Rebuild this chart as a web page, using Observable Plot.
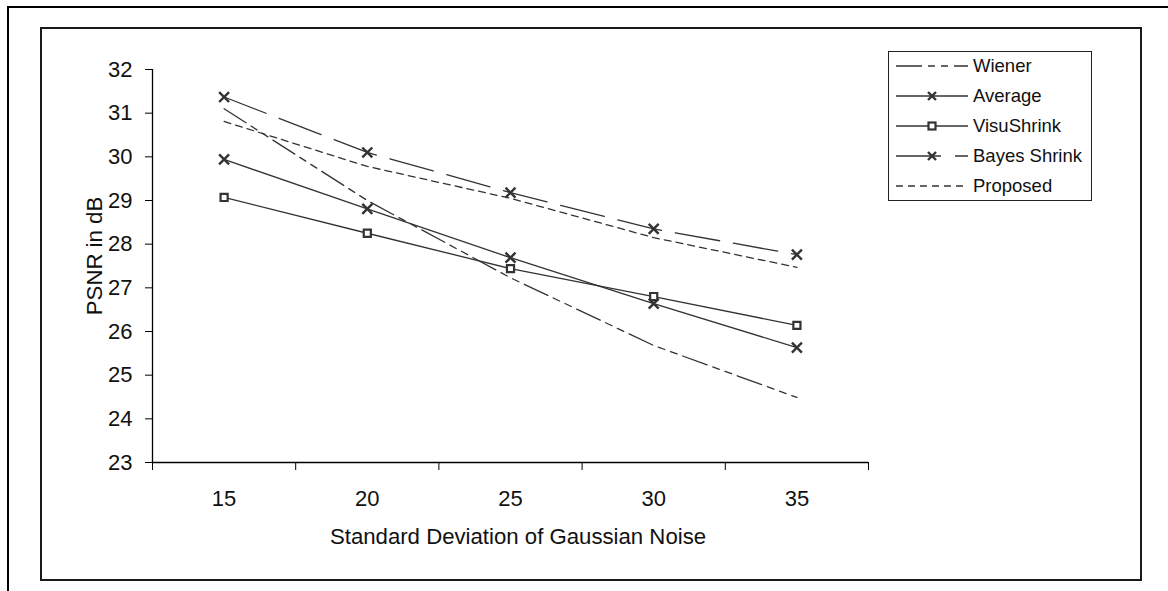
<!DOCTYPE html>
<html>
<head>
<meta charset="utf-8">
<script src="https://cdn.jsdelivr.net/npm/d3@7"></script>
<script src="https://cdn.jsdelivr.net/npm/@observablehq/plot@0.6"></script>
<style>
  html, body { margin: 0; padding: 0; background: #fff; overflow: hidden; }
  #page { position: relative; width: 1168px; height: 591px; overflow: hidden; font-family: "Liberation Sans", Arial, sans-serif; color: #111; }
  #chart { position: absolute; left: 0; top: 0; }
  .frame { position: absolute; box-sizing: border-box; pointer-events: none; }
  #outer { left: 7px; top: 6px; width: 1300px; height: 800px; border: 2px solid #000; }
  #inner { left: 40px; top: 27px; width: 1102px; height: 554px; border: 2px solid #1a1a1a; }
  #legend { position: absolute; left: 888px; top: 51px; width: 204px; height: 150px; box-sizing: border-box; border: 1.5px solid #222; background: #fff; }
  .lg-row { position: absolute; left: 0; height: 20px; }
  .lg-row svg { position: absolute; left: 7px; top: 0; }
  .lg-row span { position: absolute; left: 84px; top: 0; line-height: 20px; font-size: 18.5px; white-space: nowrap; }
  .axis-title { position: absolute; font-size: 22.2px; white-space: nowrap; line-height: 26px; }
</style>
</head>
<body>
<div id="page">
  <div id="chart"></div>
  <div class="frame" id="outer"></div>
  <div class="frame" id="inner"></div>
  <div id="legend"></div>
  <div class="axis-title" id="xtitle"></div>
  <div class="axis-title" id="ytitle"></div>
</div>
<script>
// ---- data ----
const categories = [15, 20, 25, 30, 35];
const wiener      = [31.10, 29.00, 27.23, 25.68, 24.49];
const average     = [29.94, 28.81, 27.69, 26.64, 25.63];
const visuShrink  = [29.07, 28.25, 27.44, 26.80, 26.14];
const bayesShrink = [31.37, 30.10, 29.18, 28.35, 27.76];
const proposed    = [30.81, 29.78, 29.05, 28.15, 27.47];
const yTicks = [23, 24, 25, 26, 27, 28, 29, 30, 31, 32];
const xTitle = "Standard Deviation of Gaussian Noise";
const yTitle = "PSNR in dB";
const seriesNames = ["Wiener", "Average", "VisuShrink", "Bayes Shrink", "Proposed"];

const ink = "#333";
const styles = {
  "Wiener":       {dash: "26,6,7,6,7,6", marker: null},
  "Average":      {dash: null, marker: "times"},
  "VisuShrink":   {dash: null, marker: "square"},
  "Bayes Shrink": {dash: "45,14", marker: "times"},
  "Proposed":     {dash: "7,5", marker: null}
};
const valuesBySeries = {
  "Wiener": wiener, "Average": average, "VisuShrink": visuShrink,
  "Bayes Shrink": bayesShrink, "Proposed": proposed
};
const rows = seriesNames.flatMap(s => categories.map((c, i) => ({series: s, x: c, y: valuesBySeries[s][i]})));

// category band boundaries on a linear scale
const step = categories[1] - categories[0];
const bounds = [categories[0] - step / 2, ...categories.map(c => c + step / 2)];

const marks = [
  Plot.ruleY([yTicks[0]], {stroke: "#000", strokeWidth: 1.3}),
  Plot.ruleX([bounds[0]], {stroke: "#000", strokeWidth: 1.3}),
  Plot.axisY({ticks: yTicks, tickSize: 7, tickPadding: 13, fontSize: 22, stroke: "#000", label: null}),
  Plot.axisX({ticks: bounds, tickSize: 8, tickFormat: () => "", stroke: "#000", label: null}),
  Plot.axisX({ticks: categories, tickSize: 0, tickPadding: 28, fontSize: 22, label: null})
];
for (const s of seriesNames) {
  const st = styles[s];
  const data = rows.filter(d => d.series === s);
  marks.push(Plot.line(data, {x: "x", y: "y", stroke: ink, strokeWidth: 1.3, strokeDasharray: st.dash || undefined}));
  if (st.marker === "times") {
    marks.push(Plot.dot(data, {x: "x", y: "y", symbol: "times", r: 4.6, stroke: ink, strokeWidth: 2.4}));
  } else if (st.marker === "square") {
    marks.push(Plot.dot(data, {x: "x", y: "y", symbol: "square", r: 4, fill: "#fff", stroke: ink, strokeWidth: 2.2}));
  }
}

const chart = Plot.plot({
  width: 1168,
  height: 591,
  marginLeft: 152,
  marginRight: 300,
  marginTop: 69,
  marginBottom: 129,
  style: {fontFamily: "Liberation Sans, Arial, sans-serif", background: "transparent", color: "#111", overflow: "visible"},
  x: {type: "linear", domain: [bounds[0], bounds[bounds.length - 1]]},
  y: {domain: [yTicks[0], yTicks[yTicks.length - 1]]},
  marks
});
document.getElementById("chart").appendChild(chart);

// axis titles
const xt = document.getElementById("xtitle");
xt.textContent = xTitle;
xt.style.left = "518px"; xt.style.top = "537px";
xt.style.transform = "translate(-50%, -50%)";
const yt = document.getElementById("ytitle");
yt.textContent = yTitle;
yt.style.left = "95px"; yt.style.top = "256px";
yt.style.transform = "translate(-50%, -50%) rotate(-90deg)";

// legend
const legend = document.getElementById("legend");
seriesNames.forEach((s, i) => {
  const st = styles[s];
  const row = document.createElement("div");
  row.className = "lg-row";
  row.style.top = (4 + i * 30) + "px";
  row.style.width = "200px";
  let marker = "";
  if (st.marker === "times") {
    marker = `<path d="M32,6 L40,14 M40,6 L32,14" stroke="${ink}" stroke-width="2.4" fill="none"/>`;
  } else if (st.marker === "square") {
    marker = `<rect x="32.5" y="6.5" width="7" height="7" stroke="${ink}" stroke-width="2.2" fill="#fff"/>`;
  }
  row.innerHTML = `<svg width="74" height="20"><line x1="0" y1="10" x2="72" y2="10" stroke="${ink}" stroke-width="1.3" ${st.dash ? `stroke-dasharray="${st.dash}"` : ""}/>${marker}</svg><span>${s}</span>`;
  legend.appendChild(row);
});
</script>
</body>
</html>
